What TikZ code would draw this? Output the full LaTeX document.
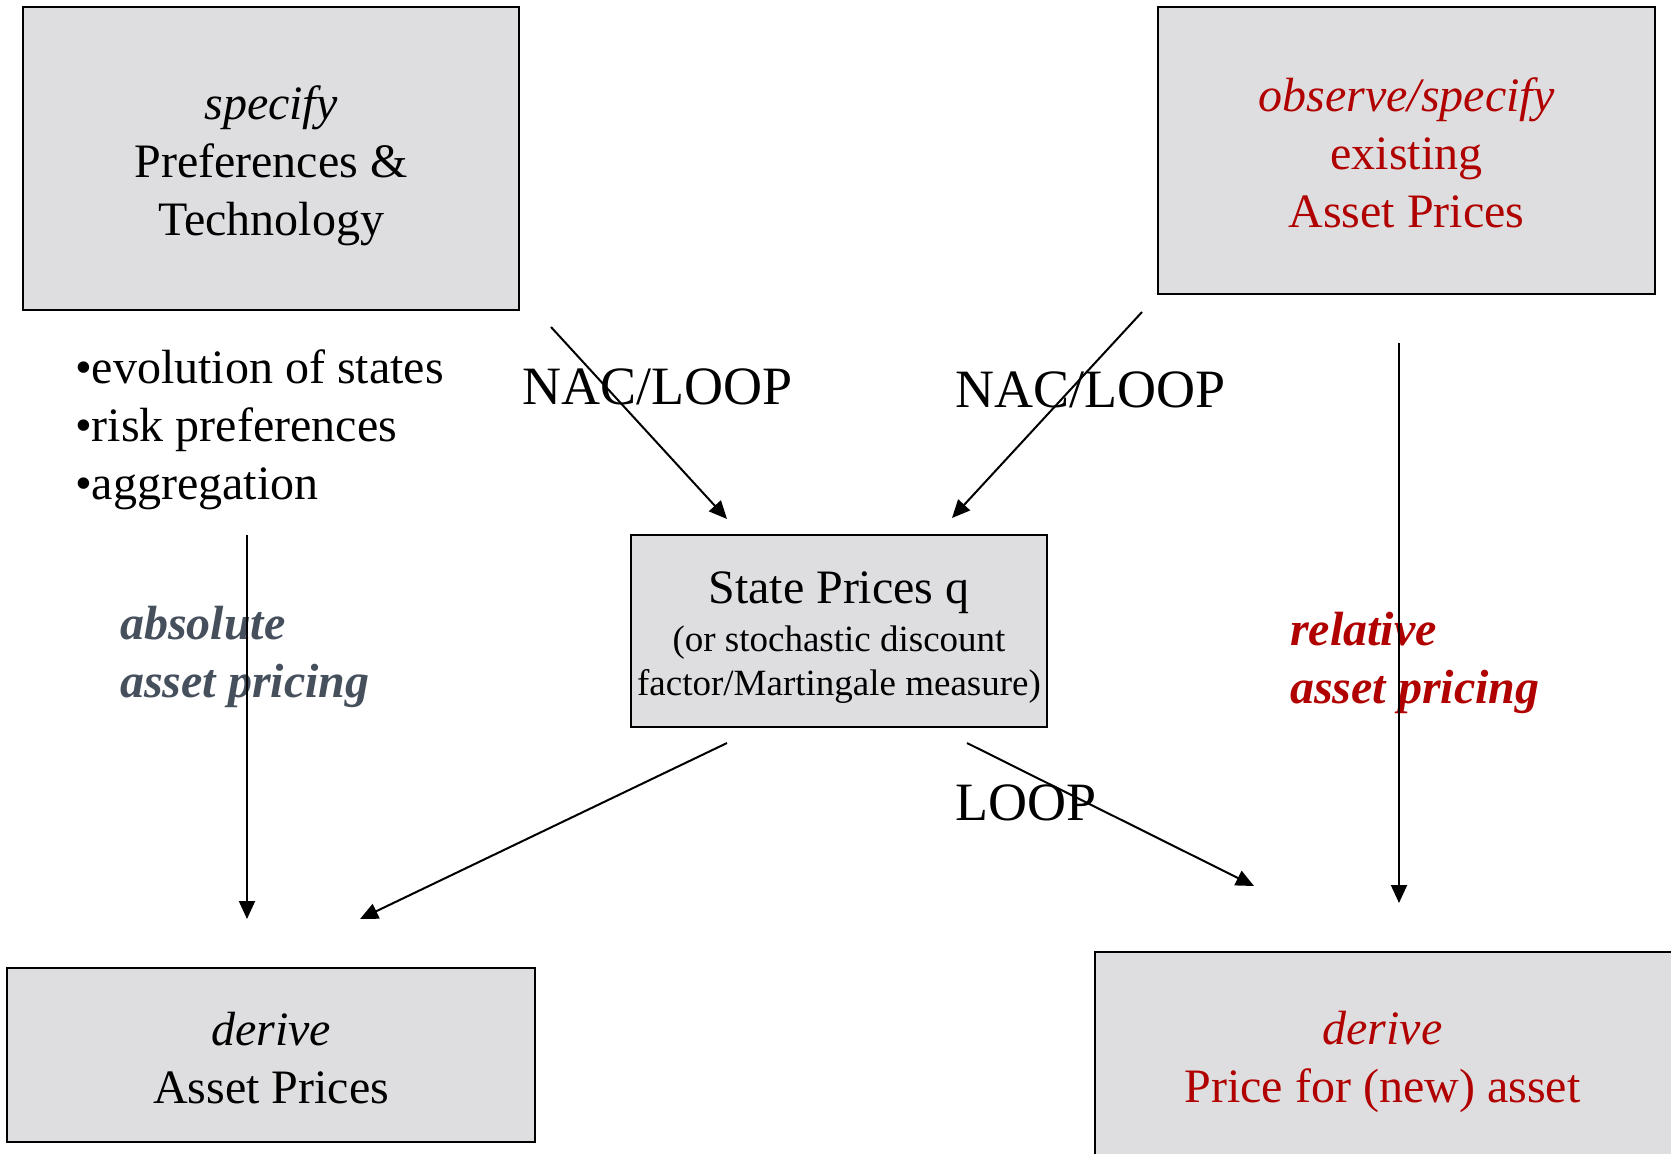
\documentclass[tikz,border=0pt]{standalone}
\usepackage{fontspec}
\setmainfont{Liberation Serif}
\usetikzlibrary{arrows.meta}
\definecolor{boxgray}{HTML}{DEDEE0}
\definecolor{darkred}{HTML}{B00000}
\definecolor{slate}{HTML}{45505C}
\tikzset{
  box/.style={draw=black, line width=1pt, fill=boxgray, inner sep=0pt},
  boxtext/.style={align=center, font=\fontsize{24}{29}\selectfont},
  arr/.style={line width=1pt, -{Triangle[length=9pt,width=8pt]}},
  loop/.style={font=\fontsize{27}{32}\selectfont, anchor=west}
}
\begin{document}
\begin{tikzpicture}[x=0.5pt, y=-0.5pt]
      \useasboundingbox (0, 0) rectangle (1671, 1153);
      \draw[box] (23, 7) rectangle (519, 310) node (pref) [pos=.5, boxtext, yshift=-3.5pt]
            {\textit{specify}\\Preferences \&\\Technology};
      \draw[box] (1158, 7) rectangle (1655, 294) node (obs) [pos=.5, boxtext, text=darkred, yshift=-1pt]
            {\textit{observe/specify}\\existing\\Asset Prices};
      \draw[box] (631, 535) rectangle (1047, 727) node (sp) [pos=.5, align=center, yshift=-3.5pt,
            font=\fontsize{18.5}{22}\selectfont]
            {\fontsize{24}{26}\selectfont State Prices q\\[2pt]
             (or stochastic discount\\factor/Martingale measure)};
      \draw[box] (7, 968) rectangle (535, 1142) node (der) [pos=.5, boxtext, yshift=-1.5pt]
            {\textit{derive}\\Asset Prices};
      \draw[box] (1095, 952) rectangle (1680, 1160) node (dernew) [pos=.5, boxtext, text=darkred, xshift=-2.5pt, yshift=-3pt]
            {\textit{derive}\\Price for (new) asset};
      \node (bul) [anchor=north west, align=left, font=\fontsize{24}{29}\selectfont] at (68, 343)
            {•evolution of states\\•risk preferences\\•aggregation};
      \node (abs) [anchor=north west, align=left, text=slate, font=\fontsize{24}{29}\bfseries\itshape] at (113, 599)
            {absolute\\asset pricing};
      \node (rel) [anchor=north west, align=left, text=darkred, font=\fontsize{24}{29}\bfseries\itshape] at (1283, 605)
            {relative\\asset pricing};
      \node (nac1) [loop] at (515, 387) {NAC/LOOP};
      \node (nac2) [loop] at (948, 390) {NAC/LOOP};
      \node (lp) [loop] at (948, 803) {LOOP};
      \coordinate (a1s) at (551, 327);  \coordinate (a1e) at (727, 519);
      \coordinate (a2s) at (1142, 312); \coordinate (a2e) at (952, 518);
      \coordinate (a3s) at (247, 535);  \coordinate (a3e) at (247, 919);
      \coordinate (a4s) at (727, 743);  \coordinate (a4e) at (360, 919);
      \coordinate (a5s) at (967, 743);  \coordinate (a5e) at (1254, 886);
      \coordinate (a6s) at (1399, 343); \coordinate (a6e) at (1399, 903);
      \draw[arr] (a1s) -- (a1e);
      \draw[arr] (a2s) -- (a2e);
      \draw[arr] (a3s) -- (a3e);
      \draw[arr] (a4s) -- (a4e);
      \draw[arr] (a5s) -- (a5e);
      \draw[arr] (a6s) -- (a6e);
\end{tikzpicture}
\end{document}
